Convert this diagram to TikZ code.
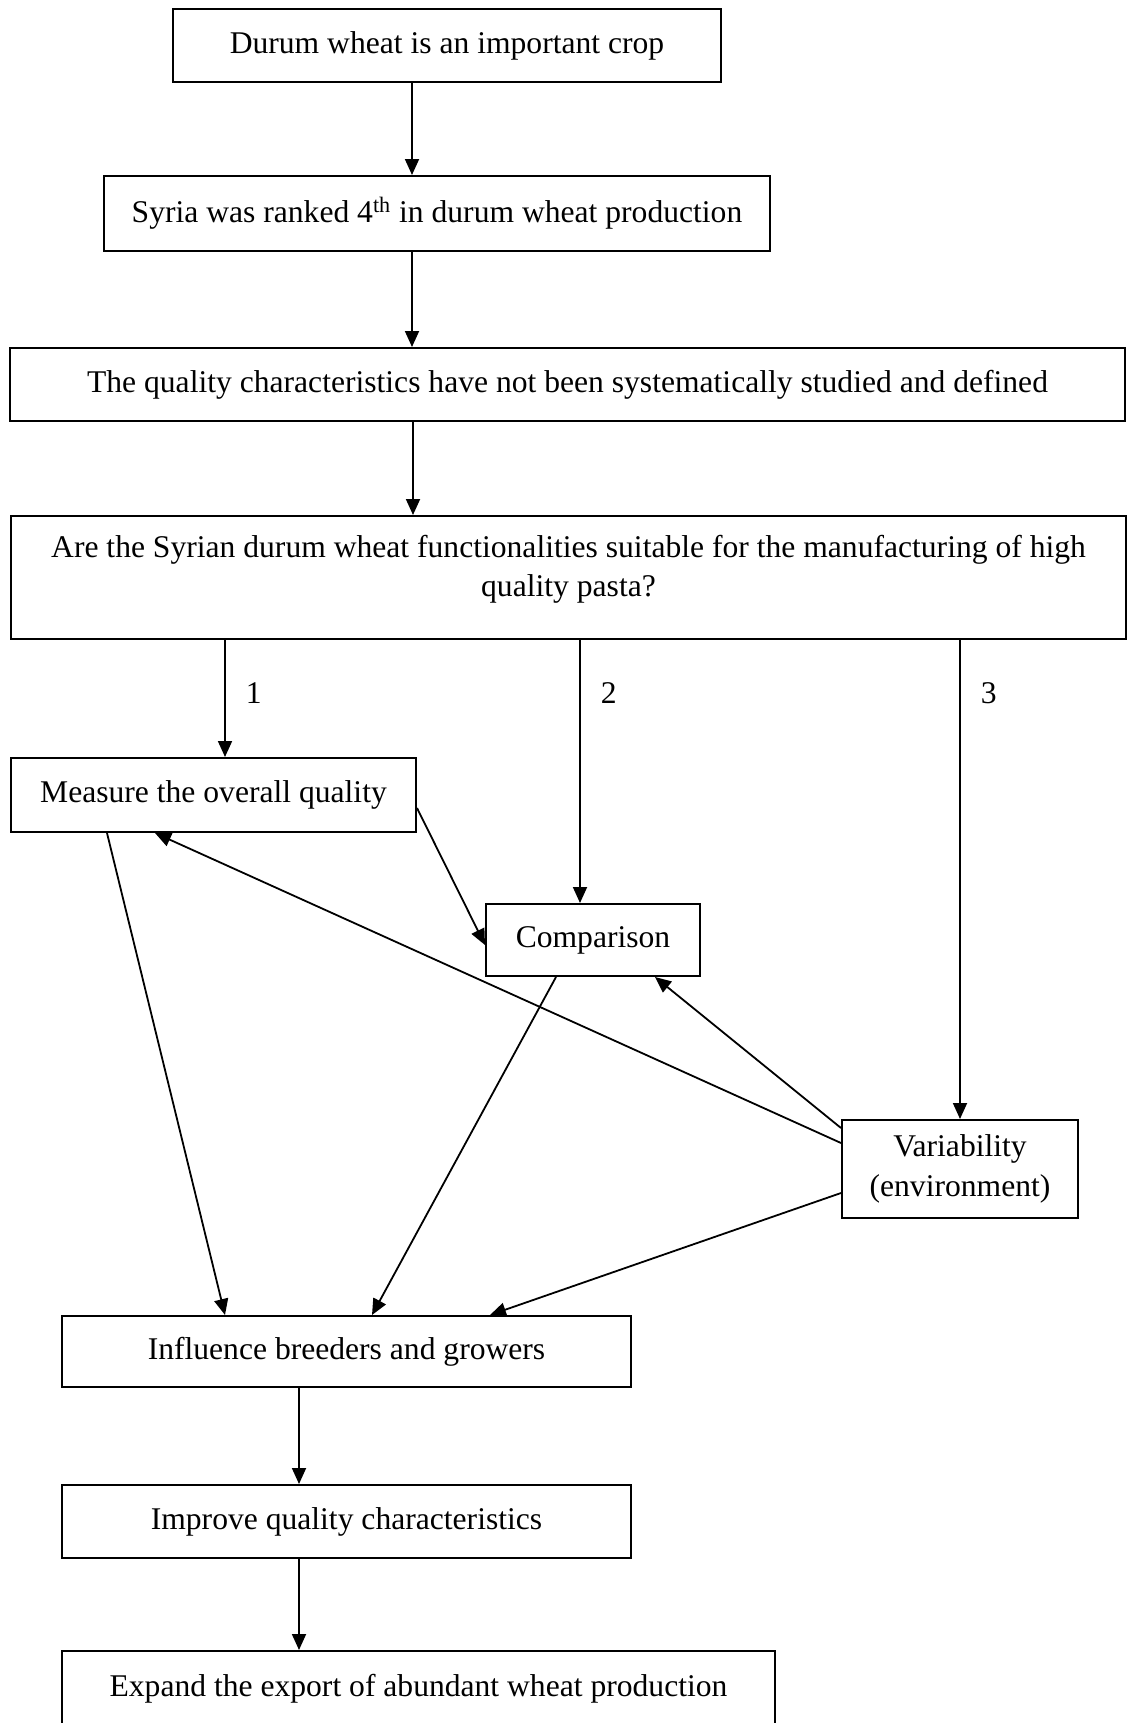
\documentclass[tikz,border=0pt]{standalone}
\usepackage{fontspec}
\setmainfont{Liberation Serif}
\usetikzlibrary{arrows.meta,calc}
\begin{document}
\begin{tikzpicture}[x=0.5pt,y=-0.5pt,
    box/.style={draw,line width=1pt,inner sep=0pt,align=center,
      font=\fontsize{15.8}{19.8}\selectfont},
    num/.style={font=\fontsize{15.8}{19.8}\selectfont,right,inner sep=0pt},
    arr/.style={-{Triangle[length=8pt,width=7pt]},line width=0.9pt}]
  \useasboundingbox (0,0) rectangle (1129,1723);
  \draw
    (447,45.5) node[box,minimum width=274pt,minimum height=36.5pt] (crop){Durum wheat is an important crop}
    (437,213.5) node[box,minimum width=333pt,minimum height=37.5pt] (rank){Syria was ranked 4\textsuperscript{th} in durum wheat production}
    (567.5,384.5) node[box,minimum width=557.5pt,minimum height=36.5pt] (char){The quality characteristics have not been systematically studied and defined}
    (568.5,577.5) node[box,minimum width=557.5pt,minimum height=61.5pt] (quest){Are the Syrian durum wheat functionalities suitable for the manufacturing of high\\quality pasta?\\[-8pt]\mbox{}}
    (213.5,795) node[box,minimum width=202.5pt,minimum height=37pt] (meas){Measure the overall quality}
    (593,940) node[box,minimum width=107pt,minimum height=36pt] (comp){Comparison}
    (960,1169) node[box,minimum width=118pt,minimum height=49pt] (vari){Variability\\(environment)}
    (346.5,1351.5) node[box,minimum width=284.5pt,minimum height=35.5pt] (infl){Influence breeders and growers}
    (346.5,1521.5) node[box,minimum width=284.5pt,minimum height=36.5pt] (impr){Improve quality characteristics}
    (418.5,1688.5) node[box,minimum width=356.5pt,minimum height=37.5pt] (expo){Expand the export of abundant wheat production};
  \begin{scope}[arr]
    \draw ($(crop.south)+(-35,0)$) to ($(rank.north)+(-25,0)$);
    \draw ($(rank.south)+(-25,0)$) to ($(char.north)+(-155.5,0)$);
    \draw ($(char.south)+(-154.5,0)$) to ($(quest.north)+(-155.5,0)$);
    \draw ($(quest.south)+(-343.5,0)$) to node[num,pos=0.45,xshift=10pt] (one){1} ($(meas.north)+(11.5,0)$);
    \draw ($(quest.south)+(11.5,0)$) to node[num,pos=0.2,xshift=10pt] (two){2} ($(comp.north)+(-13,0)$);
    \draw ($(quest.south)+(391.5,0)$) to node[num,pos=0.11,xshift=10pt] (three){3} (vari.north);
    \draw ($(meas.east)+(0,13)$) to ($(comp.west)+(0,5)$);
    \draw ($(vari.west)+(0,-26)$) to ($(meas.south)+(-58.5,0)$);
    \draw ($(vari.west)+(0,-41)$) to ($(comp.south)+(62,0)$);
    \draw ($(meas.south)+(-106.5,0)$) to ($(infl.north)+(-121.5,0)$);
    \draw ($(comp.south)+(-37,0)$) to ($(infl.north)+(25.5,0)$);
    \draw ($(vari.west)+(0,24)$) to ($(infl.north)+(143.5,0)$);
    \draw ($(infl.south)+(-47.5,0)$) to ($(impr.north)+(-47.5,0)$);
    \draw ($(impr.south)+(-47.5,0)$) to ($(expo.north)+(-119.5,0)$);
  \end{scope}
\end{tikzpicture}
\end{document}
